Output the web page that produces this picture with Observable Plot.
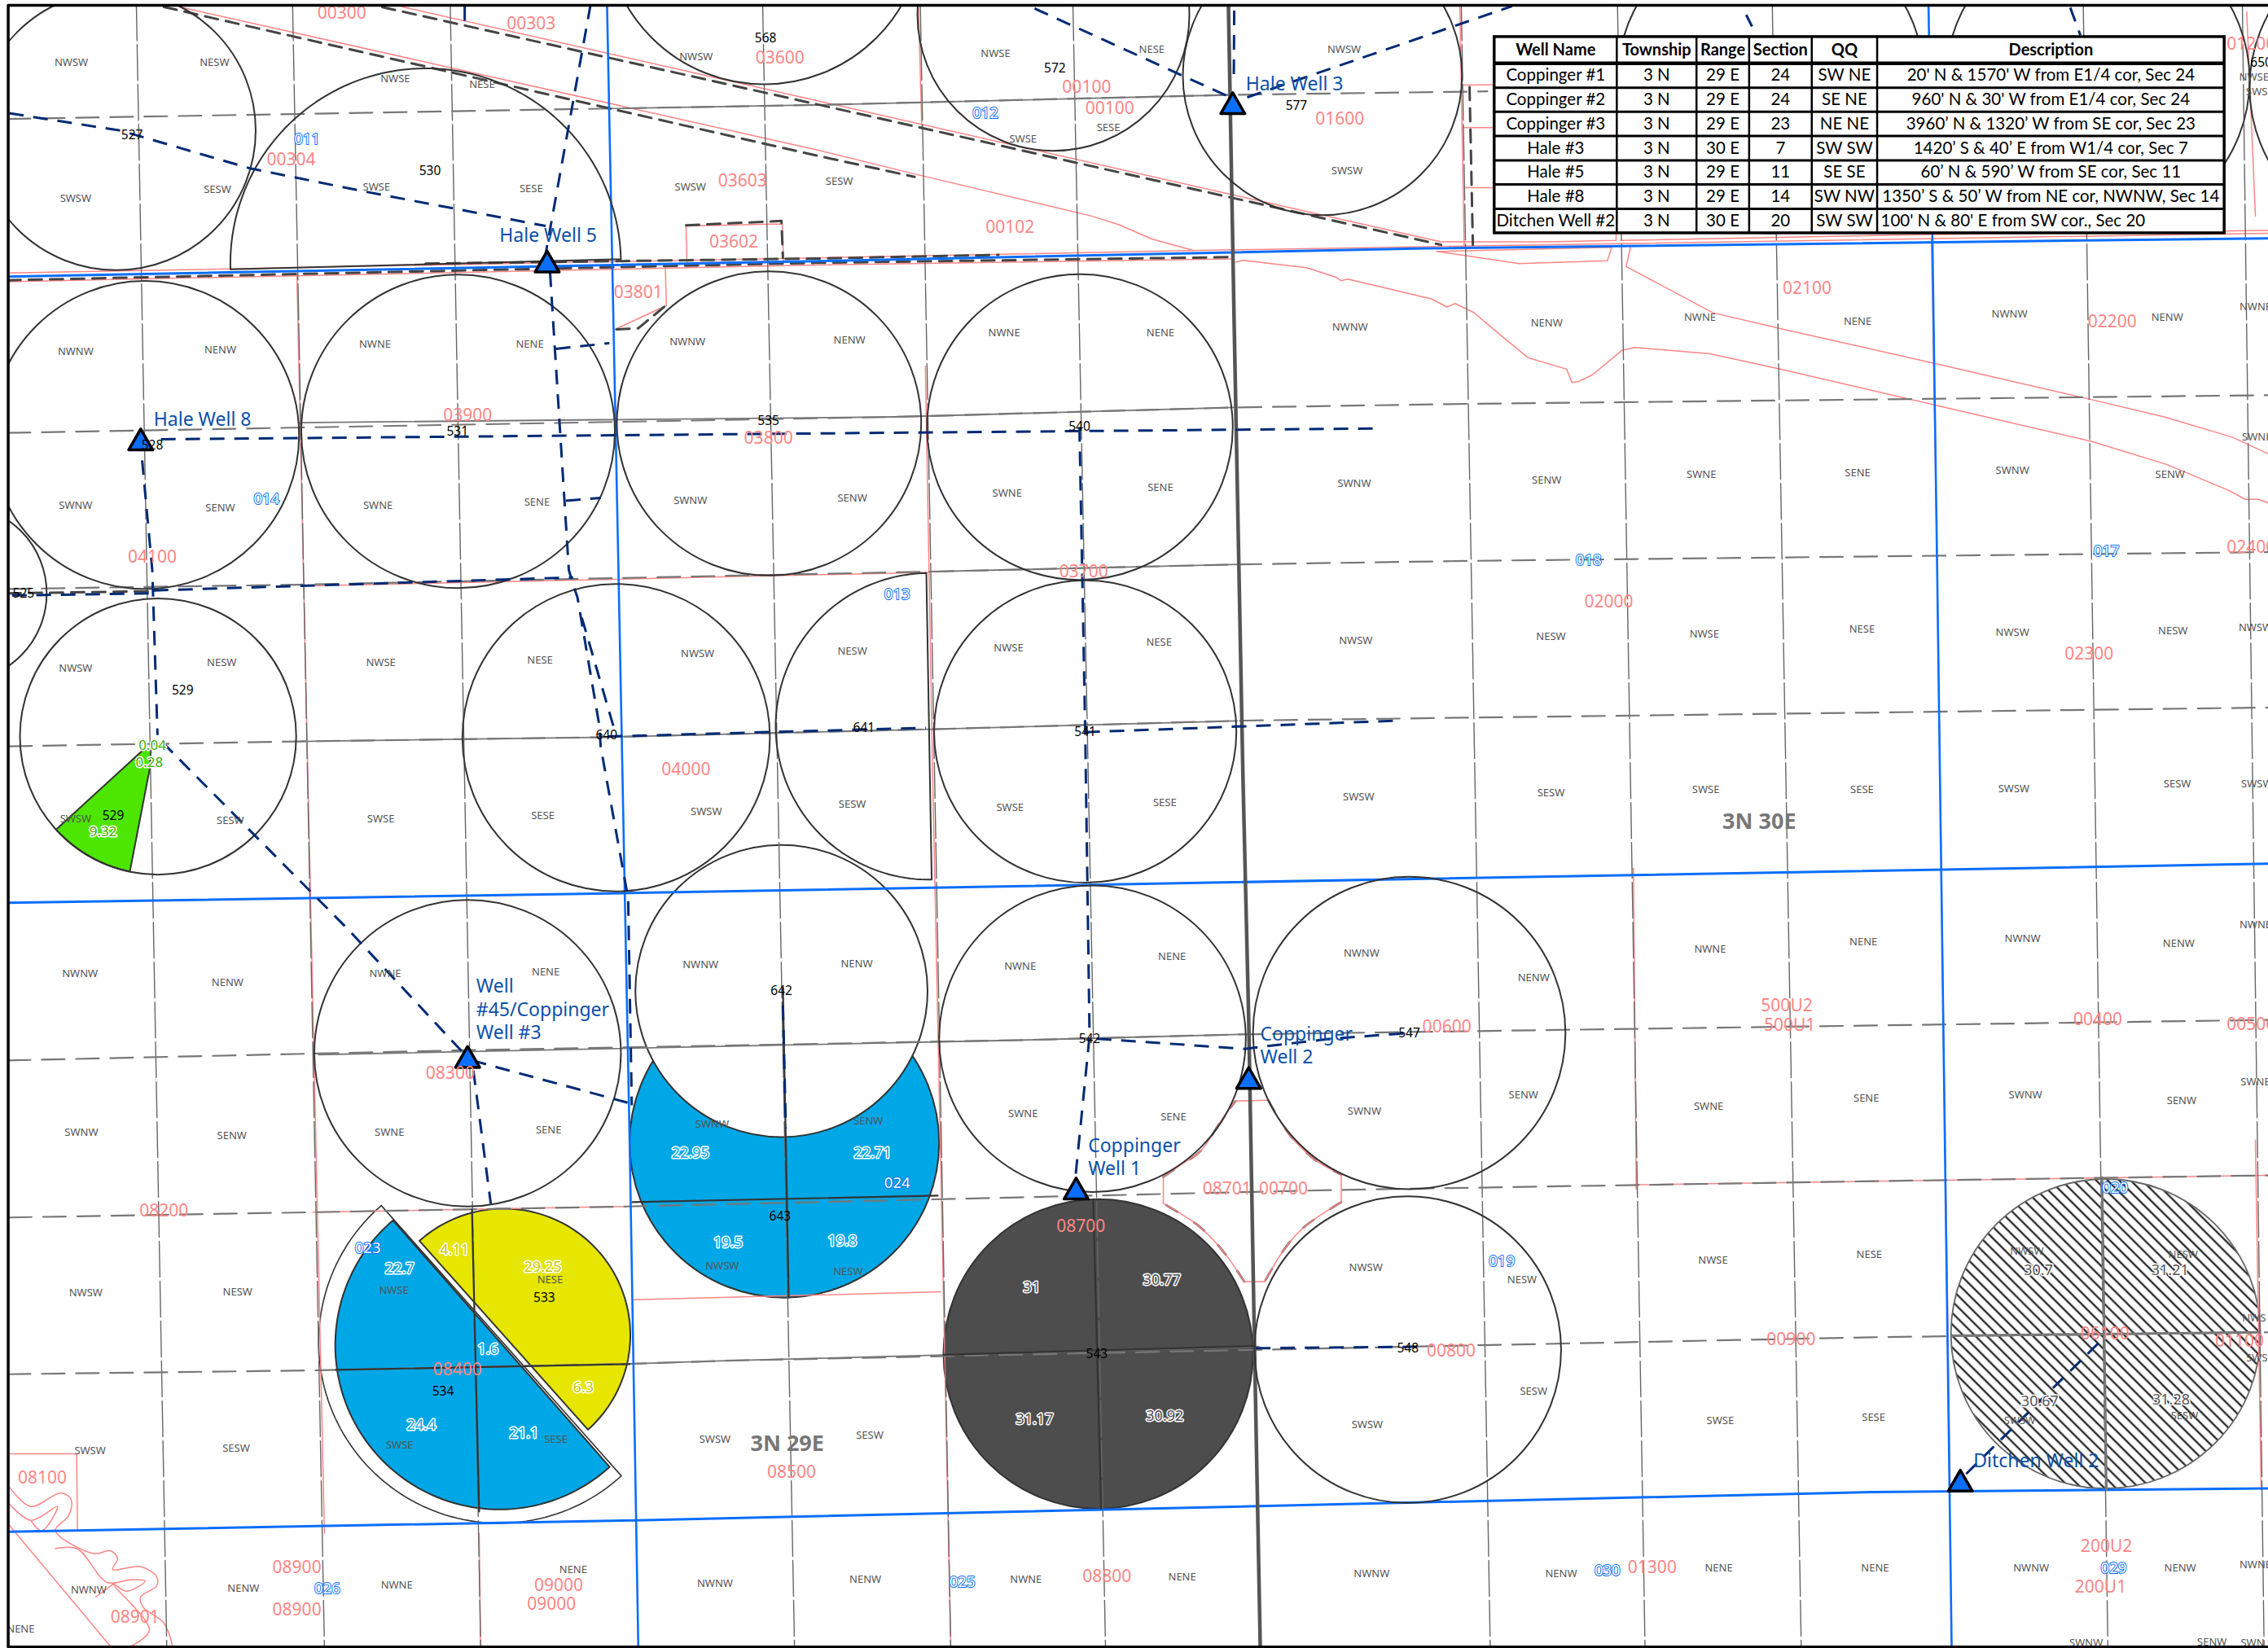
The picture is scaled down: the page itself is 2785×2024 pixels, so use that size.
<!DOCTYPE html>
<html><head><meta charset="utf-8">
<script src="https://cdn.jsdelivr.net/npm/d3@7"></script>
<script src="https://cdn.jsdelivr.net/npm/@observablehq/plot@0.6"></script>
<style>html,body{margin:0;padding:0;background:#fff}svg{display:block}</style>
</head><body><div id="chart"></div>
<script>
// Map units: W 1568 x H 1139.6
const townshipLinesH=[
 [[5,191],[563,180.3],[985,171.5],[1568,164.5]],
 [[5,624],[450,617],[1568,597]],
 [[5,1059],[439,1051],[1295,1031.5],[1568,1029]]];
const townshipLinesV=[
 [[419.4,3],[427.3,394],[435,788],[441,1138]],
 [[1333,3],[1335.6,158],[1339,394],[1349,1138]]];
const road=[[849,3],[853,225],[859,535],[863,704],[867,929],[871,1138]];
const sectionV=[
 [[94,3],[115,1138]],[[202,3],[224,1138]],[[311,3],[332,1138]],[[527,3],[549,1138]],
 [[636,3],[657,1138]],[[741.5,3],[764,1138]],[[1010,3],[1030,1138]],[[1118,3],[1137,1138]],
 [[1225,3],[1245,1138]],[[1440,3],[1457,1138]],[[1550,3],[1565,1138]]];
const sectionH=[
 [[5,82],[563,72.3],[851,65.3],[1028,62.9]],
 [[5,299],[619,288],[853,281.5],[1013,279],[1568,273]],
 [[5,407],[207,404],[642,395],[857,390],[1013,387.6],[1568,381.5]],
 [[6,515.8],[207,512.4],[411,509.6],[644,504],[860,498],[1013,496],[1568,489]],
 [[5,733],[320,726],[704,719],[858,715],[1568,705]],
 [[5.8,841.6],[216,838],[433,834],[704,827.7],[927,822.5],[1295,816.5],[1568,812.5]],
 [[5,950],[220,947.3],[433,942.9],[507,940.5],[1295,924.4],[1568,921]]];
const sectionSolid=[
 [[420,74.8],[563,72.3],[851,65.3]],
 [[206,292],[619,288],[853,281.5]],
 [[642,395],[857,390]],
 [[207,512.4],[411,509.6],[644,504],[855,498.2]],
 [[220,729],[704,719],[858,715]],
 [[232,947],[433,942.9],[507,940.5],[870,931]],
 [[1349,923.4],[1561,921]]];
const diagonals=[
 [[113,4.5],[563,107],[632,122]],
 [[264,4.6],[563,71.5],[996,169]],
 [[5,193.5],[563,181.5],[851,177.5]],
 [[294,182],[563,178.5],[690,176]],
 [[474,155.5],[540,152.5],[541,178]],
 [[426,227.5],[441,226.7],[460,211]],
 [[1015.7,60],[1018,169]],
 [[5,410],[106,408.5]]];
const parcelLines=[
 [[124,4.5],[563,103],[632,120],[754,149],[773,155],[796,165],[825,173]],
 [[278,4.5],[563,69],[996,167],[1070,167],[1117,166],[1117,161.5]],
 [[1120,166],[1327,162],[1568,159]],
 [[5,188.5],[563,178],[851,172.5],[1568,161]],
 [[5,194.5],[563,183],[851,178.8]],
 [[993,173.6],[1050,182],[1111,180],[1114,170.8],[993,173.6]],
 [[1127,170.6],[1124,184],[1184,216],[1231,227],[1337,251],[1437,274],[1496,288],[1543,302],[1568,313.6]],
 [[854,181],[859,179.7],[903,184.8],[923.4,191.4],[926.8,193.8],[931.5,192.7],[989.7,206.5],[1000,212],[1005.8,209.6],[1018.8,215.9],[1031.8,227],[1041,234.6],[1056,247],[1082.8,255],[1086.4,264],[1091,263.6],[1100.5,259],[1121,242],[1130,240],[1182,244.4],[1231,255],[1337,279.7],[1446,305],[1498,321],[1541,339],[1552,345],[1561,345],[1568,347.6]],
 [[634.7,4],[637,88]],[[1009,4],[1012,170]],
 [[1011,58.6],[1033,58.3]],[[1011,88],[1033,88]],[[1012,129.5],[1033,129.5]],
 [[474,156],[540.5,154.6],[541.5,180.5],[474.7,181.5],[474,156]],
 [[459.7,183.5],[460.4,211],[424.8,227.5]],
 [[639.5,253],[644.5,535],[657,1138]],
 [[1335,165],[1339,394],[1348,1030]],
 [[1129,600],[1131,822]],
 [[205,190],[224,1060]],
 [[331,1060],[332,1138]],
 [[208,405],[642,395.5]],
 [[438,898.5],[650,893]],
 [[216,838],[433,834]],
 [[1130,819],[1568,812.5]],
 [[1559,788],[1563,1030]],[[1553,8],[1559,149]],
 [[5.8,1005],[52.7,1005],[53.3,1058]],
 [[5.8,1054],[76,1138]],
 [[66,1104],[78,1095]]];
const canalEdges=[
 [[5.8,1027.6],[21,1041.5],[42,1032],[49,1037],[47,1048],[38,1058],[64.6,1074],[76,1072],[81,1077.4],[77.6,1085],[97,1083],[108,1090],[108,1096.4],[97,1104],[98.6,1111],[113,1122],[119,1138]],
 [[5.8,1039.3],[21,1051],[39.4,1041.5],[28.4,1058.3],[21,1051]],
 [[38,1070.6],[53,1070.6],[74,1094],[90.5,1092],[100,1093],[87,1100],[78,1095],[103,1127],[90.5,1138]]];
const cornerParcel=[[876.6,760.6],[891,784],[908,801],[927,812]];
const cornerParcel2=[[927,831],[901,848.5],[888,863],[874,886]];
const cornerParcel3=[[860,886],[848.5,869],[839,857.6],[826,845.6],[804,832]];
const cornerParcel4=[[804,813.6],[816.5,805],[829.6,795.8],[846,771.5],[854,761]];
const cornerParcelJoins=[[[854,761],[876.6,760.6]],[[927,812],[927,831]],[[874,886],[860,886]],[[804,832],[804,813.6]]];
const pipelines=[
 [[6,78],[83,90],[172,116],[251,132],[377,156]],
 [[321,4],[321,17]],
 [[408,3],[377,175]],
 [[380,188],[393,394],[397,407],[399,413],[414,501],[415,516],[434,621],[436.5,764]],
 [[402,427],[425,506]],
 [[384,241],[421,237]],[[391,346],[415,344]],
 [[111,303.5],[950,296]],
 [[98,318],[105,394],[108.6,508]],
 [[112,513],[240,642],[323,731]],
 [[326,733],[436.5,763]],[[327,740],[339,832]],
 [[8,411.5],[106,410]],[[106,408],[396,399]],
 [[420,509],[640,503]],[[750,506],[968,498]],
 [[746,295],[750,506],[753,716],[743,816]],
 [[758,718],[860,725],[920,718],[974,714]],
 [[541,695],[543,780]],
 [[715,5.6],[848,66]],[[862,67],[1045,4]],[[853,7],[852.7,55]],
 [[1207,10],[1211,18]],[[1431,5],[1438,24]],
 [[868,932],[980,931]],
 [[1359,1019],[1454,925]]];
const solidCross=[
 [[437,831],[648,826.5]],[[541,683],[545,897]],
 [[652,936.5],[867,930.5]],[[755.5,829],[761,1043]],
 [[232,947],[435,943]],[[326,836],[331,1045]]];
const hatchCross=[[[1349,923.4],[1561,921]],[[1453,814],[1456,1030]]];
const circles=[
 {x:80,y:90,r:96.5},{x:528,y:-52,r:110},{x:728,y:10,r:94},{x:914,y:52,r:96.5},
 {x:1224,y:55,r:106},{x:1450,y:55,r:105},{x:1660,y:60,r:105},
 {x:100,y:300.5,r:106.5},{x:316.4,y:298,r:108.4},{x:531.4,y:292.5,r:105.2},{x:746.3,y:295,r:105.7},
 {x:-29,y:410,r:61},{x:109,y:509,r:95.5},{x:425.7,y:509.8,r:106.3},{x:750,y:505.6,r:104.5},
 {x:755,y:718,r:106},{x:974,y:714,r:108},{x:323,y:728,r:106},{x:973,y:933,r:106}];
const whiteCircles=[{x:540,y:685,r:101}];
const blueCircles=[{x:542,y:790,r:107}];
const darkCircles=[{x:759,y:936,r:107}];
const hatchedCircles=[{x:1455.5,y:922,r:107}];
// pie-sector pivots: centre, radius, start and end bearing (degrees)
const pieOuter={x:345,y:928,r:125,a:229.2,b:47.6};
const pieBlue={x:345,y:930,r:113.5,a:229.6,b:47.8};
const pieYellow={x:348,y:923,r:87.5,a:-131.8,b:48.3};
const pieHalfTop={x:294,y:182,r:135,a:178.3,b:358.7};
const pieLeft={x:642,y:502,r:106,a:89,b:269};
const pieGreen={x:109,y:509,r:95.5,a:101.8,b:137.6,extra:[[99,518],[104,518],[103.5,530]]};
const wells=[[852,73.5],[378,183],[97,306],[323,733],[863,747.5],[743.7,824],[1355,1026]];
const wellLabels=[
 ["Hale Well 3",861,58],["Hale Well 5",345,163],["Hale Well 8",106,290],
 ["Well",329,682],["#45/Coppinger",329,698],["Well #3",329,714],
 ["Coppinger",871,715],["Well 2",871,731],["Coppinger",752,792],["Well 1",752,808],
 ["Ditchen Well 2",1364,1010]];
const parcelLabels=[
 ["00300",236,9],["00303",367,16],["03600",539,40],["00100",751,60],["00100",767,75],["01600",926,82],
 ["00304",201,110],["03603",513,125],["00102",698,157],["03602",507,167],["03801",441,202],["02100",1249,199],
 ["02200",1460,222],["03900",323,287],["03800",531,303],["04100",105,385],["03700",749,395],["02400",1556,378],
 ["02000",1112,416],["02300",1444,452],["04000",474,532],["00600",1000,710],["500U2",1235,695],["500U1",1237,709],
 ["00400",1450,705],["00500",1556,708],["08300",311,742],["08200",113,837],["08701",848,822],["00700",887,822],
 ["08700",747,848],["00800",1003,934],["00900",1238,926],["08400",316,947],["06100",1455,922],["01100",1548,927],
 ["08500",547,1018],["08100",29,1022],["08900",205,1084],["08900",205,1113],["08901",93,1118],["09000",386,1096],
 ["09000",381,1109],["08800",765,1090],["01300",1142,1084],["200U2",1456,1069],["200U1",1452,1097],["01200",1556,30]];
const sectionNumbers=[
 ["012",681,78],["011",212,96],["014",184,345],["013",620,411],["018",1098,387],["017",1456,381],
 ["024",620,818],["019",1038,872],["020",1462,821],["023",254,863],["026",226,1098],["025",665,1094],
 ["030",1111,1086],["029",1461,1084]];
const qqLabels=[
 ["NWSW",49,43],["NESW",148,43],["SWSW",52,137],["SESW",150,131],["NWSE",273,54],["NESE",333,58],["SWSE",260,129],["SESE",367,130],
 ["NWSW",481,39],["SWSW",477,129],["SESW",580,125],["NWSE",688,37],["NESE",796,34],["SWSE",707,96],["SESE",766,88],["NWSW",929,34],["SWSW",931,118],
 ["NWNW",52,243],["NENW",152,242],["SWNW",52,349],["SENW",152,351],["NWNE",259,238],["NENE",366,238],["SWNE",261,349],["SENE",371,347],
 ["NWNW",475,236],["NENW",587,235],["SWNW",477,346],["SENW",589,344],["NWNE",694,230],["NENE",802,230],["SWNE",696,341],["SENE",802,337],
 ["NWNW",933,226],["SWNW",936,334],["NENW",1069,223],["NWNE",1175,219],["NENE",1284,222],["SENW",1069,332],["SWNE",1176,328],["SENE",1284,327],
 ["NWNW",1389,217],["NENW",1498,219],["NWNE",1559,212],["SWNW",1391,325],["SENW",1500,328],["SWNE",1560,302],
 ["NWSE",263,458],["NESE",373,456],["SWSE",263,566],["SESE",375,564],["NWSW",52,462],["NESW",153,458],["SWSW",52,566],["SESW",159,567],
 ["NWSW",482,452],["NESW",589,450],["SWSW",488,561],["SESW",589,556],["NWSE",697,448],["NESE",801,444],["SWSE",698,558],["SESE",805,555],
 ["NWSW",937,443],["NESW",1072,440],["NWSE",1178,438],["NESE",1287,435],["NWSW",1391,437],["NESW",1502,436],["NWSW",1559,434],
 ["SWSW",939,551],["SESW",1072,548],["SWSE",1179,546],["SESE",1287,546],["SWSW",1392,545],["SESW",1505,542],["SWSW",1560,542],
 ["NWNW",55,673],["NENW",157,679],["NWNE",266,673],["NENE",377,672],["NWNW",484,667],["NENW",592,666],["NWNE",705,668],["NENE",810,661],
 ["NWNW",941,659],["NENW",1060,676],["NWNE",1182,656],["NENE",1288,651],["NWNW",1398,649],["NENW",1506,652],["NWNE",1559,639],
 ["SWNW",56,783],["SENW",160,785],["SWNE",269,783],["SENE",379,781],["SWNW",492,777],["SENW",600,775],["SWNE",707,770],["SENE",811,772],
 ["SWNW",943,768],["SENW",1053,757],["SWNE",1181,765],["SENE",1290,759],["SWNW",1400,757],["SENW",1508,761],["SWNE",1559,748],
 ["NWSW",59,894],["NESW",164,893],["NWSE",272,892],["NESE",380,885],["NWSW",499,875],["NESW",586,879],["NWSW",944,876],["NESW",1052,885],
 ["NWSE",1184,871],["NESE",1292,867],["NWSW",1401,865],["NESW",1509,867],["NWS",1558,911],
 ["SWSW",62,1003],["SESW",163,1001],["SWSE",276,999],["SESE",384,995],["SWSW",494,995],["SESW",601,992],["SWSW",945,985],["SESW",1060,962],
 ["SWSE",1189,982],["SESE",1295,980],["SWSW",1396,982],["SESW",1510,979],["SWS",1560,939],
 ["NWNW",61,1099],["NENW",168,1098],["NWNE",274,1096],["NENE",396,1085],["NWNW",494,1095],["NENW",598,1092],["NWNE",709,1092],["NENE",817,1090],
 ["NWNW",948,1088],["NENW",1079,1088],["NENE",1188,1084],["NENE",1296,1084],["NWNW",1404,1084],["NENW",1507,1084],["NWNE",1559,1082],["NENE",14,1126],
 ["SWNW",1442,1136],["SENW",1529,1135],["SWN",1557,1136],["NWSE",1558,53],["SWS",1560,63]];
const pivotIds=[
 ["568",529,26],["572",729,47],["577",896,73],["527",91,93],["530",297,118],["535",531,291],["531",316,298],["540",746,295],["528",105,308],
 ["525",16,410],["529",126,477],["641",597,503],["541",750,506],["640",419,508],["529",78,564],["642",540,685],["542",753,718],["547",974,714],
 ["643",539,841],["533",376,897],["534",306,962],["543",758,936],["548",973,932],["650",1563,43]];
const acresOnBlue=[["22.95",477,797],["22.71",603,797],["19.5",503,859],["19.8",582,858],["22.7",276,877],["1.6",337,933],["24.4",291,985],["21.1",362,991]];
const acresOnDark=[["31",713,890],["30.77",803,885],["31.17",715,981],["30.92",805,979]];
const acresOnYellow=[["29.25",375,876],["4.11",314,864],["6.3",403,959]];
const acresOnGreen=[["9.32",71,575],["0.04",105,515],["0.28",103,527]];
const acresOnHatch=[["30.7",1409,878],["31.21",1500,878],["30.67",1410,969],["31.28",1500.7,968]];
const townshipLabels=[["3N 29E",544,998],["3N 30E",1216,568]];
// table
const tableColumns=[1033,1117.5,1172.6,1209,1252.3,1297.5,1537.7];
const tableRowsY=[25.3,43.5,60.4,77,93.8,110.7,127.3,144.1,161];
const tableHeader=["Well Name","Township","Range","Section","QQ","Description"];
const tableBody=[
 ["Coppinger #1","3 N","29 E","24","SW NE","20' N & 1570' W from E1/4 cor, Sec 24"],
 ["Coppinger #2","3 N","29 E","24","SE NE","960' N & 30' W from E1/4 cor, Sec 24"],
 ["Coppinger #3","3 N","29 E","23","NE NE","3960’ N & 1320’ W from SE cor, Sec 23"],
 ["Hale #3","3 N","30 E","7","SW SW","1420’ S & 40’ E from W1/4 cor, Sec 7"],
 ["Hale #5","3 N","29 E","11","SE SE","60’ N & 590’ W from SE cor, Sec 11"],
 ["Hale #8","3 N","29 E","14","SW NW","1350’ S & 50’ W from NE cor, NWNW, Sec 14"],
 ["Ditchen Well #2","3 N","30 E","20","SW SW","100' N & 80' E from SW cor., Sec 20"]];

const MAPW=1568, MAPH=1139.6;
const SANS='"Noto Sans", sans-serif', TAB='Lato, sans-serif';
const path=(pts,o)=>Plot.line(pts,{x:d=>d[0],y:d=>d[1],...o});
const paths=(list,o)=>list.map(p=>path(p,o));
const rec=a=>a.map(([t,x,y])=>({t,x,y}));
const txt=(a,o)=>Plot.text(rec(a),{x:"x",y:"y",text:"t",fontFamily:SANS,...o});
const arc=s=>{const n=Math.max(8,Math.ceil(Math.abs(s.b-s.a)/2));
  const out=d3.range(n+1).map(i=>{const t=(s.a+(s.b-s.a)*i/n)*Math.PI/180;return [s.x+s.r*Math.cos(t),s.y+s.r*Math.sin(t)];});
  if(s.extra) out.push(...s.extra);
  out.push(out[0]);return out;};
const disc=(a,o)=>Plot.dot(a,{x:"x",y:"y",r:"r",...o});
const defs=()=>{const ns="http://www.w3.org/2000/svg";const d=document.createElementNS(ns,"defs");
  d.innerHTML='<pattern id="hatch" width="10" height="10" patternUnits="userSpaceOnUse" patternTransform="rotate(45)"><rect width="10" height="10" fill="#fff"/><line x1="0" y1="5" x2="10" y2="5" stroke="#2b2b2b" stroke-width="2.4"/></pattern>';return d;};
const tableCells=[];
tableHeader.forEach((t,i)=>tableCells.push({t,x:(tableColumns[i]+tableColumns[i+1])/2,y:(tableRowsY[0]+tableRowsY[1])/2,w:"bold",a:"middle"}));
tableBody.forEach((row,r)=>row.forEach((t,i)=>{const left=r===6&&i===5;
  tableCells.push({t,x:left?1300:(tableColumns[i]+tableColumns[i+1])/2,y:(tableRowsY[r+1]+tableRowsY[r+2])/2,w:"normal",a:left?"start":"middle"});}));
const L=tableColumns[0],R=tableColumns[6],T=tableRowsY[0],B=tableRowsY[8];
const red="#ff8585",gray="#666",navy="#002a74",blue="#0a6eff";
const chart=Plot.plot({
 width:2785,height:2024,margin:0,
 x:{domain:[0,MAPW],range:[0,2785],axis:null},
 y:{domain:[0,MAPH],range:[0,2024],axis:null},
 r:{type:"linear",domain:[0,MAPW],range:[0,2785]},
 style:{background:"#fff"},
 marks:[
  defs,
  disc(hatchedCircles,{fill:"url(#hatch)",stroke:"#666",strokeWidth:1.8}),
  disc(blueCircles,{fill:"#00a7e6",stroke:"#333",strokeWidth:2}),
  disc(whiteCircles,{fill:"#fff",stroke:"#333",strokeWidth:2}),
  disc(darkCircles,{fill:"#4d4d4d",stroke:"#333",strokeWidth:2}),
  path(arc(pieOuter),{fill:"#fff",stroke:"#333",strokeWidth:1.6}),
  path(arc(pieBlue),{fill:"#00a7e6",stroke:"#333",strokeWidth:2}),
  path(arc(pieYellow),{fill:"#e6e600",stroke:"#333",strokeWidth:2}),
  path(arc(pieGreen),{fill:"#4de600",stroke:"#333",strokeWidth:2}),
  ...paths(parcelLines,{stroke:red,strokeWidth:1.5}),
  ...paths(canalEdges,{stroke:red,strokeWidth:1.5,curve:"catmull-rom"}),
  ...paths([cornerParcel,cornerParcel2,cornerParcel3,cornerParcel4],{stroke:"#555",strokeWidth:2.6,strokeDasharray:"16 24",curve:"catmull-rom"}),
  ...paths([cornerParcel,cornerParcel2,cornerParcel3,cornerParcel4],{stroke:red,strokeWidth:1.5,curve:"catmull-rom"}),
  ...paths(cornerParcelJoins,{stroke:red,strokeWidth:1.5}),
  ...paths(sectionV,{stroke:gray,strokeWidth:1.4,strokeDasharray:"44 5"}),
  ...paths(sectionH,{stroke:"#777",strokeWidth:2.2,strokeDasharray:"28 14"}),
  ...paths(sectionSolid,{stroke:"#777",strokeWidth:1.8}),
  ...paths(diagonals,{stroke:"#444",strokeWidth:3,strokeDasharray:"16 10"}),
  ...paths(townshipLinesH,{stroke:blue,strokeWidth:3}),
  ...paths(townshipLinesV,{stroke:blue,strokeWidth:2.6}),
  path(road,{stroke:"#555",strokeWidth:4.5}),
  ...paths(solidCross,{stroke:"#333",strokeWidth:2.2}),
  ...paths(hatchCross,{stroke:"#777",strokeWidth:3}),
  disc(circles,{stroke:"#333",strokeWidth:2}),
  path(arc(pieHalfTop),{stroke:"#333",strokeWidth:2}),
  path(arc(pieLeft),{stroke:"#333",strokeWidth:2}),
  ...paths(pipelines,{stroke:navy,strokeWidth:3,strokeDasharray:"18 12",strokeLinecap:"butt"}),
  Plot.dot(wells,{x:d=>d[0],y:d=>d[1],r:11,symbol:"triangle",fill:blue,stroke:"#000",strokeWidth:3.5,strokeLinejoin:"round"}),
  txt(qqLabels,{fontSize:13,fill:"#555"}),
  txt(parcelLabels,{fontSize:21,fill:red}),
  txt(pivotIds,{fontSize:15.5,fill:"#000"}),
  txt(sectionNumbers,{fontSize:18.5,fill:"#fff",stroke:blue,strokeWidth:2}),
  txt(acresOnBlue,{fontSize:18,fill:"#00a7e6",stroke:"#fff",strokeWidth:3}),
  txt(acresOnDark,{fontSize:18,fill:"#4d4d4d",stroke:"#fff",strokeWidth:3}),
  txt(acresOnYellow,{fontSize:18,fill:"#c8c800",stroke:"#fff",strokeWidth:3}),
  txt(acresOnGreen,{fontSize:17,fill:"#3cb000",stroke:"#fff",strokeWidth:3}),
  txt(acresOnHatch,{fontSize:18,fill:"#555",stroke:"#fff",strokeWidth:3}),
  txt(wellLabels,{fontSize:23,fill:"#0d50a8",textAnchor:"start"}),
  txt(townshipLabels,{fontSize:27,fontWeight:"bold",fill:"#777"}),
  // table
  Plot.rect([{x1:L,x2:R,y1:T,y2:B}],{x1:"x1",x2:"x2",y1:"y1",y2:"y2",fill:"#fff",stroke:"#000",strokeWidth:3.5}),
  ...tableRowsY.slice(1,-1).map((y,i)=>path([[L,y],[R,y]],{stroke:"#000",strokeWidth:i===0?4.5:3,strokeLinecap:"butt"})),
  ...tableColumns.slice(1,-1).map(x=>path([[x,T],[x,B]],{stroke:"#000",strokeWidth:2.5,strokeLinecap:"butt"})),
  Plot.text(tableCells.filter(d=>d.w==="bold"),{x:"x",y:"y",text:"t",fontFamily:TAB,fontWeight:"bold",fontSize:20,fill:"#000"}),
  Plot.text(tableCells.filter(d=>d.w!=="bold"&&d.a==="middle"),{x:"x",y:"y",text:"t",fontFamily:TAB,fontSize:20.5,fill:"#000"}),
  Plot.text(tableCells.filter(d=>d.a==="start"),{x:"x",y:"y",text:"t",fontFamily:TAB,fontSize:20.5,fill:"#000",textAnchor:"start"}),
  // sheet margin and neat line
  Plot.rect([{x1:-2,x2:5.4,y1:-2,y2:MAPH+2},{x1:-2,x2:MAPW+2,y1:-2,y2:3.4},{x1:-2,x2:MAPW+2,y1:1138.6,y2:MAPH+2}],{x1:"x1",x2:"x2",y1:"y1",y2:"y2",fill:"#fff"}),
  path([[MAPW+3,3.4],[5.4,3.4],[5.4,1138.6],[MAPW+3,1138.6]],{stroke:"#000",strokeWidth:3.5,strokeLinecap:"butt"})
 ]});
document.getElementById("chart").append(chart);
</script></body></html>
